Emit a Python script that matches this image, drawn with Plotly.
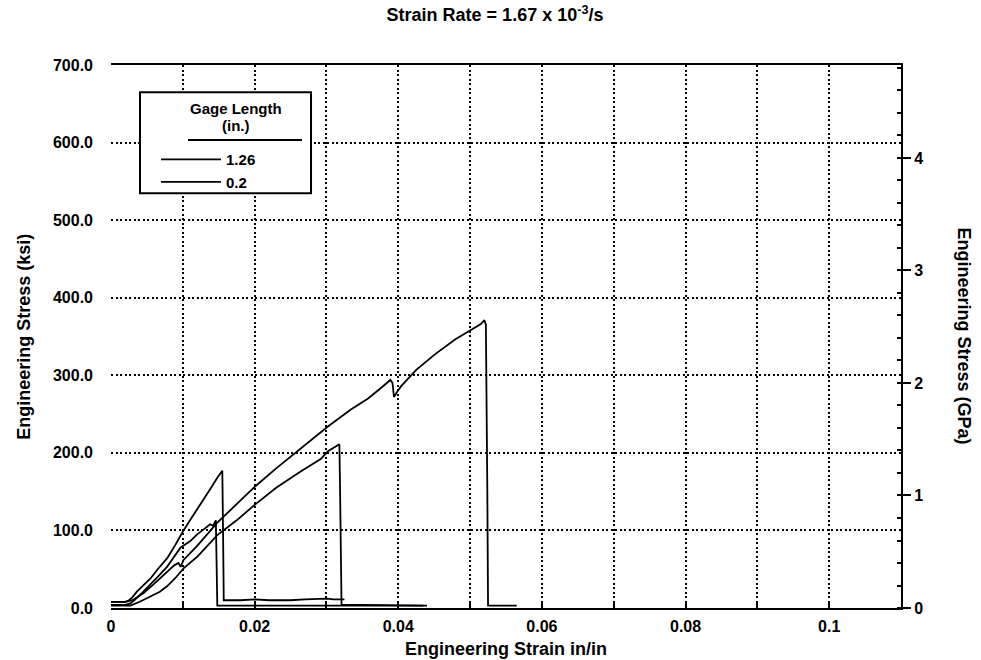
import plotly.graph_objects as go

# ---------------- data ----------------
strain_a = [0, 0.001, 0.002, 0.0025, 0.003, 0.0036, 0.0045, 0.0055, 0.0065, 0.0078, 0.009,
            0.00997, 0.011, 0.012, 0.013, 0.014, 0.0148, 0.0155, 0.0156, 0.0157, 0.018,
            0.020, 0.022, 0.025, 0.027, 0.030, 0.031, 0.0325]
stress_a = [8, 8, 8, 10, 14, 21, 29, 38, 50, 64, 82,
            98, 113, 127, 142, 156, 168, 177, 100, 10, 10,
            11, 10, 10, 11, 12, 11, 11]

strain_b = [0, 0.002, 0.0027, 0.0035, 0.0045, 0.0055, 0.0065, 0.0078, 0.0088, 0.0097,
            0.011, 0.012, 0.013, 0.0138, 0.0142, 0.0146, 0.0147, 0.0148, 0.020, 0.030,
            0.040, 0.044]
stress_b = [4, 4, 6, 12, 21, 30, 40, 53, 66, 78,
            86, 95, 102, 108, 106, 113, 60, 3, 3, 3,
            3, 3]

strain_c = [0, 0.002, 0.003, 0.0045, 0.006, 0.0075, 0.0088, 0.0094, 0.0097, 0.0101, 0.012,
            0.0148, 0.0175, 0.0201, 0.023, 0.0264, 0.0302, 0.0334, 0.0358, 0.0375, 0.0389,
            0.0392, 0.0394, 0.0398, 0.0404, 0.0425, 0.0451, 0.0479, 0.0502, 0.0515, 0.0520,
            0.0522, 0.0524, 0.0525, 0.0545, 0.0565]
stress_c = [8, 8, 10, 19, 31, 44, 55, 58, 53, 62, 80,
            110, 134, 157, 180, 205, 234, 256, 270, 283, 294,
            290, 272, 278, 286, 307, 327, 346, 359, 366, 371,
            365, 150, 3, 3, 3]

strain_d = [0, 0.002, 0.0027, 0.004, 0.0055, 0.0068, 0.0078, 0.009, 0.0101, 0.012,
            0.0148, 0.0175, 0.020, 0.023, 0.0264, 0.0292, 0.0302, 0.031, 0.0318, 0.0319,
            0.0320, 0.0321, 0.035, 0.040, 0.0435]
stress_d = [3, 3, 3, 8, 15, 21, 28, 39, 51, 66,
            94, 113, 133, 155, 176, 192, 202, 206, 211, 150,
            30, 4, 4, 3, 3]

x_dtick_label = 0.02
x_dtick_grid = 0.01
y_tickvals = [0, 100, 200, 300, 400, 500, 600, 700]
gpa_tickvals = [0, 1, 2, 3, 4]
KSI_TO_GPA = 0.00689476

# ---------------- figure ----------------
FONT = "Liberation Sans"
line_style = dict(color="black", width=1.8)

fig = go.Figure()
fig.add_trace(go.Scatter(x=strain_c, y=stress_c, mode="lines", line=line_style,
                         name="1.26", legendgroup="1.26", showlegend=True))
fig.add_trace(go.Scatter(x=strain_d, y=stress_d, mode="lines", line=line_style,
                         name="1.26", legendgroup="1.26", showlegend=False))
fig.add_trace(go.Scatter(x=strain_a, y=stress_a, mode="lines", line=line_style,
                         name="0.2", legendgroup="0.2", showlegend=True))
fig.add_trace(go.Scatter(x=strain_b, y=stress_b, mode="lines", line=line_style,
                         name="0.2", legendgroup="0.2", showlegend=False))
# right axis carrier (GPa)
fig.add_trace(go.Scatter(x=[None], y=[None], yaxis="y2", showlegend=False,
                         hoverinfo="skip", mode="lines"))

grid_dash = "2px,2.5px"
tick_font = dict(family=FONT, size=16, color="black", weight="bold")
title_font = dict(family=FONT, size=18, color="black", weight="bold")

fig.update_layout(
    width=981, height=660,
    margin=dict(l=111, r=80, t=65, b=52),
    paper_bgcolor="white", plot_bgcolor="white",
    font=dict(family=FONT, size=14, color="black", weight="bold"),
    showlegend=True,
    legend=dict(x=0.057, y=0.856, xanchor="left", yanchor="top",
                bgcolor="rgba(0,0,0,0)", borderwidth=0,
                font=dict(family=FONT, size=15, color="black", weight="bold"),
                itemwidth=60, tracegroupgap=0),
    xaxis=dict(range=[0, 0.11], tick0=0, dtick=x_dtick_label, tickformat="~g",
               showgrid=True, gridcolor="black", griddash=grid_dash, gridwidth=1.5,
               showline=True, linecolor="black", linewidth=2, mirror=True,
               ticks="inside", ticklen=6, tickwidth=1.5, tickcolor="black",
               minor=dict(dtick=x_dtick_grid, tick0=0, ticks="inside", ticklen=6,
                          tickwidth=1.5, tickcolor="black", showgrid=True,
                          gridcolor="black", griddash=grid_dash, gridwidth=1.5),
               ticklabelstandoff=3, zeroline=False, tickfont=tick_font),
    yaxis=dict(range=[0, 700], tickvals=y_tickvals, tickformat=".1f",
               showgrid=True, gridcolor="black", griddash=grid_dash, gridwidth=1.5,
               showline=False, ticks="", ticklabelstandoff=17, zeroline=False,
               tickfont=tick_font),
    yaxis2=dict(range=[0, 700 * KSI_TO_GPA], tickvals=gpa_tickvals, overlaying="y",
                side="right", showgrid=False, zeroline=False,
                showline=True, linecolor="black", linewidth=2,
                ticks="outside", ticklen=8, tickwidth=1.5, tickcolor="black",
                minor=dict(dtick=0.2, tick0=0, ticks="inside", ticklen=4,
                           tickcolor="black", tickwidth=1.5),
                tickfont=tick_font),
    title=dict(text="Strain Rate = 1.67 x 10<sup>-3</sup>/s", x=495 / 981, y=1 - 15 / 660,
               xanchor="center", yanchor="middle", font=title_font),
)

# axis titles
fig.add_annotation(text="Engineering Strain in/in", xref="paper", yref="paper",
                   x=0.5, y=-0.0755, xanchor="center", yanchor="middle", showarrow=False,
                   font=title_font)
fig.add_annotation(text="Engineering Stress (ksi)", xref="paper", yref="paper",
                   x=-0.111, y=0.5, xanchor="center", yanchor="middle", showarrow=False,
                   textangle=-90, font=title_font)
fig.add_annotation(text="Engineering Stress (GPa)", xref="paper", yref="paper",
                   x=1.081, y=0.5, xanchor="center", yanchor="middle", showarrow=False,
                   textangle=90, font=title_font)

# legend frame with its title
fig.add_shape(type="rect", xref="paper", yref="paper", x0=0.0367, x1=0.2532,
              y0=0.764, y1=0.950, line=dict(color="black", width=2),
              fillcolor="white", layer="above")
fig.add_shape(type="line", xref="paper", yref="paper", x0=0.0975, x1=0.2418,
              y0=0.862, y1=0.862, line=dict(color="black", width=2), layer="above")
legend_title_font = dict(family=FONT, size=15, color="black", weight="bold")
fig.add_annotation(text="Gage Length", xref="paper", yref="paper",
                   x=0.158, y=(608 - 108) / 543, xanchor="center", yanchor="middle",
                   showarrow=False, font=legend_title_font)
fig.add_annotation(text="(in.)", xref="paper", yref="paper",
                   x=0.158, y=(608 - 125) / 543, xanchor="center", yanchor="middle",
                   showarrow=False, font=legend_title_font)

fig.write_html("out.html")
